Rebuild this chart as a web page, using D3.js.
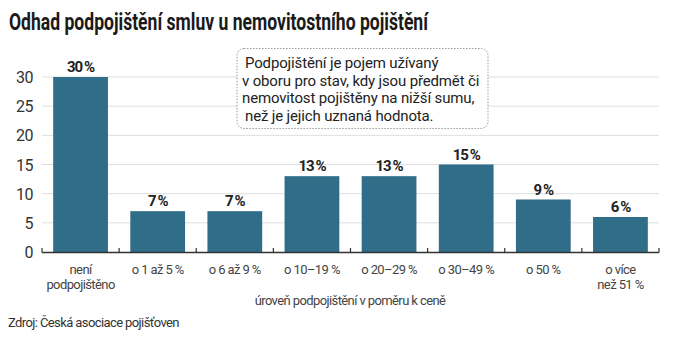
<!DOCTYPE html>
<html><head><meta charset="utf-8">
<script src="https://cdn.jsdelivr.net/npm/d3@7"></script>
<style>
body{margin:0;background:#fff;}
svg text{font-family:Roboto, "Liberation Sans", sans-serif;}
</style></head>
<body><svg id="c" width="688" height="344"></svg>
<script>
const categories = [["není","podpojištěno"],["o 1 až 5 %"],["o 6 až 9 %"],["o 10–19 %"],["o 20–29 %"],["o 30–49 %"],["o 50 %"],["o více","než 51 %"]];
const values = [30,7,7,13,13,15,9,6];
const yTicks = [0,5,10,15,20,25,30];
const title = "Odhad podpojištění smluv u nemovitostního pojištění";
const noteLines = ["Podpojištění je pojem užívaný","v oboru pro stav, kdy jsou předmět či","nemovitost pojištěny na nižší sumu,","než je jejich uznaná hodnota."];
const xTitle = "úroveň podpojištění v poměru k ceně";
const source = "Zdroj: Česká asociace pojišťoven";

const svg = d3.select("#c");
const m = {l:42, r:29, t:77, b:92};
const W = 688, H = 344;
const x = d3.scaleBand().domain(d3.range(categories.length)).range([m.l, W-m.r]).paddingInner(0.29).paddingOuter(0.145);
const y = d3.scaleLinear().domain([0,30]).range([H-m.b, m.t]);
const color = "#2f6d89";

svg.append("text").attr("x",9).attr("y",30).attr("font-size",24).attr("font-weight",700)
  .attr("textLength",419).attr("lengthAdjust","spacingAndGlyphs").attr("fill","#1a1a1a").text(title);

// grid
svg.append("g").selectAll("line").data(yTicks.filter(d=>d>0)).join("line")
  .attr("x1",m.l).attr("x2",W-m.r).attr("y1",d=>y(d)).attr("y2",d=>y(d))
  .attr("stroke","#dedede").attr("stroke-width",1);

// y labels
svg.append("g").selectAll("text").data(yTicks).join("text")
  .attr("x",33).attr("y",d=>y(d)+6).attr("text-anchor","end").attr("font-size",16)
  .attr("fill","#333").attr("letter-spacing",-0.5).text(d=>d);

// note box
const nb = svg.append("g");
nb.append("rect").attr("x",237).attr("y",48.5).attr("width",251).attr("height",80).attr("rx",7)
  .attr("fill","#fff").attr("stroke","#999").attr("stroke-width",1).attr("stroke-dasharray","1.5,1.5");
nb.selectAll("text").data(noteLines).join("text").attr("x",(d,i)=>i===0||i===3?245:242).attr("y",(d,i)=>68+i*17.7)
  .attr("font-size",15).attr("letter-spacing",-0.15).attr("fill","#222").text(d=>d);

// bars
svg.append("g").selectAll("rect").data(values).join("rect")
  .attr("x",(d,i)=>x(i)).attr("width",x.bandwidth()).attr("y",d=>y(d)).attr("height",d=>y(0)-y(d))
  .attr("fill",color);

svg.append("g").selectAll("text").data(values).join("text")
  .attr("x",(d,i)=>x(i)+x.bandwidth()/2).attr("y",d=>y(d)-5).attr("text-anchor","middle")
  .attr("font-size",15).attr("font-weight",700).attr("letter-spacing",-1.1).attr("fill","#222").text(d=>d+"\u2009%");

// x axis
const ax = svg.append("g");
ax.append("line").attr("x1",m.l).attr("x2",W-m.r).attr("y1",y(0)+0.5).attr("y2",y(0)+0.5).attr("stroke","#333").attr("stroke-width",1.5);
const bounds = d3.range(categories.length+1).map(i=> i===0 ? m.l : (i===categories.length ? W-m.r : x(i)-x.step()*x.paddingInner()/2));
ax.selectAll("line.t").data(bounds).join("line").attr("class","t")
  .attr("x1",d=>d).attr("x2",d=>d).attr("y1",y(0)-4).attr("y2",y(0)+0.5).attr("stroke","#333").attr("stroke-width",1.2);

const cl = svg.append("g").selectAll("text").data(categories).join("text")
  .attr("x",(d,i)=>x(i)+x.bandwidth()/2).attr("y",274).attr("text-anchor","middle")
  .attr("font-size",13).attr("letter-spacing",-0.6).attr("fill","#444");
cl.selectAll("tspan").data(d=>d).join("tspan").attr("x",function(){return this.parentNode.getAttribute("x");})
  .attr("dy",(d,i)=>i===0?0:14.5).text(d=>d);

svg.append("text").attr("x",350).attr("y",305).attr("text-anchor","middle").attr("font-size",13)
  .attr("letter-spacing",-0.6).attr("fill","#444").text(xTitle);
svg.append("text").attr("x",8).attr("y",327).attr("font-size",13).attr("letter-spacing",-0.6)
  .attr("fill","#333").text(source);
</script></body></html>
